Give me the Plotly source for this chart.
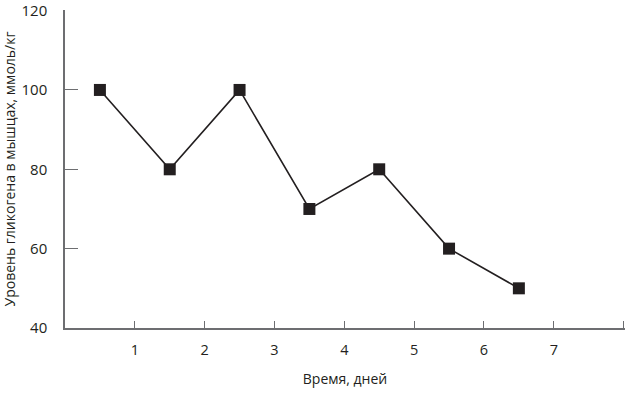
import plotly.graph_objects as go

days = [0.5, 1.5, 2.5, 3.5, 4.5, 5.5, 6.5]
glycogen = [100, 80, 100, 70, 80, 60, 50]
x_tickvals = [1, 2, 3, 4, 5, 6, 7, 8]
x_ticktext = ["1", "2", "3", "4", "5", "6", "7", ""]
y_tickvals = [40, 60, 80, 100, 120]

ink = "#231f20"
axis_col = "#6d6e71"
font_family = "Open Sans, DejaVu Sans, sans-serif"

fig = go.Figure()
fig.add_trace(go.Scatter(
    x=days, y=glycogen, mode="lines+markers",
    line=dict(color=ink, width=1.6),
    marker=dict(symbol="square", size=12, color=ink),
    showlegend=False,
))

fig.update_layout(
    width=629, height=393,
    margin=dict(l=65, r=4, t=10, b=65),
    paper_bgcolor="white", plot_bgcolor="white",
    font=dict(family=font_family, color=ink, size=14),
    xaxis=dict(
        range=[0, 8.02], tickvals=x_tickvals, ticktext=x_ticktext,
        ticks="inside", ticklen=7, tickwidth=1.2, tickcolor=axis_col,
        showline=True, linecolor=axis_col, linewidth=1.5,
        showgrid=False, zeroline=False, automargin=False,
        tickfont=dict(size=14.5, color=ink), ticklabelstandoff=8,
        ticklabeloverflow="allow",
        title=dict(text="Время, дней", font=dict(size=14), standoff=16),
    ),
    yaxis=dict(
        range=[40, 120.15], tickvals=y_tickvals,
        ticks="inside", ticklen=13, tickwidth=1.2, tickcolor=axis_col,
        showline=True, linecolor=axis_col, linewidth=1.5,
        showgrid=False, zeroline=False, automargin=False,
        tickfont=dict(size=15, color=ink), ticklabelstandoff=13,
        ticklabeloverflow="allow",
        title=dict(text="Уровень гликогена в мышцах, ммоль/кг", font=dict(size=14), standoff=13),
    ),
)

fig.write_html(
    "out.html",
    config={"displayModeBar": False},
    post_script="document.body.style.margin='0';document.body.style.overflow='hidden';",
)
